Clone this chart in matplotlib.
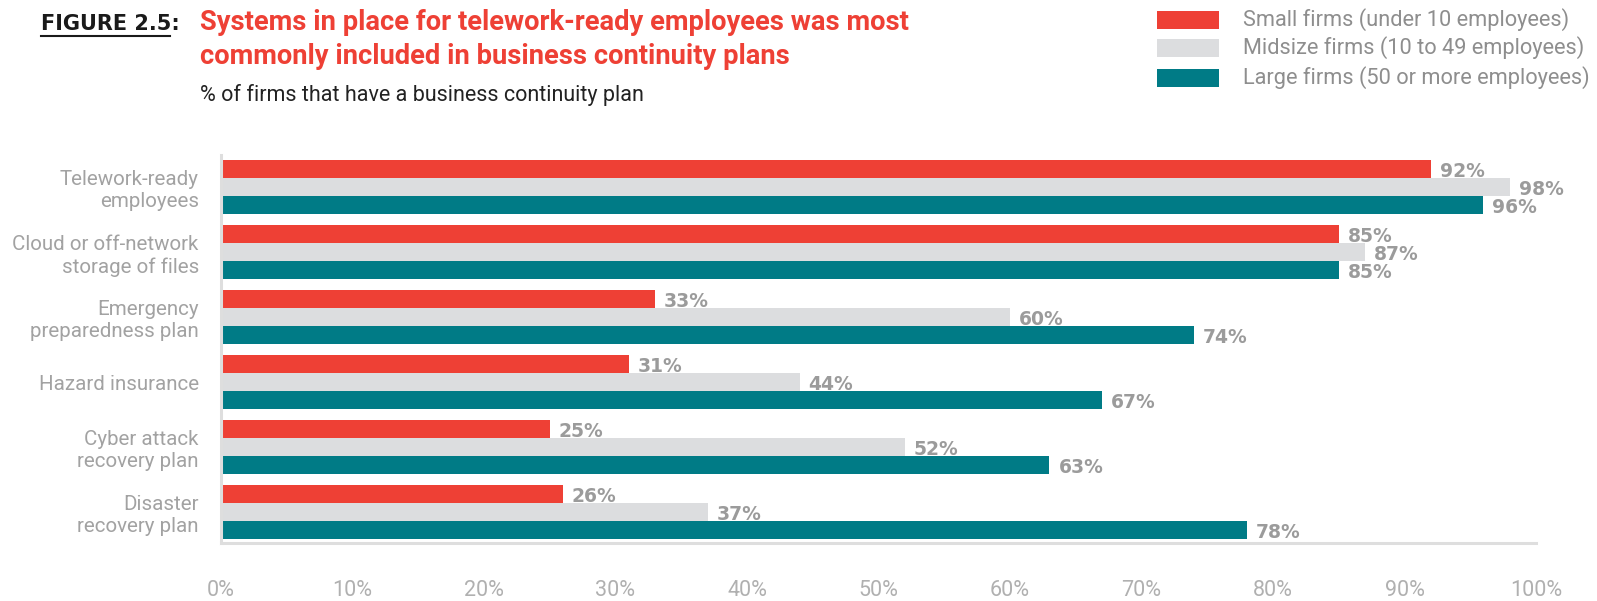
import matplotlib
matplotlib.use("Agg")
import matplotlib.pyplot as plt
from matplotlib.patches import Rectangle

categories = [
    "Telework-ready\nemployees",
    "Cloud or off-network\nstorage of files",
    "Emergency\npreparedness plan",
    "Hazard insurance",
    "Cyber attack\nrecovery plan",
    "Disaster\nrecovery plan",
]
small_firms = [92, 85, 33, 31, 25, 26]
midsize_firms = [98, 87, 60, 44, 52, 37]
large_firms = [96, 85, 74, 67, 63, 78]
series_names = [
    "Small firms (under 10 employees)",
    "Midsize firms (10 to 49 employees)",
    "Large firms (50 or more employees)",
]
x_ticks = list(range(0, 101, 10))

RED = "#EE4035"
GREY = "#DCDDDF"
TEAL = "#007B86"
LABEL_GREY = "#9B9B9B"
AXIS_GREY = "#DEDEDE"

W, H = 1597, 601
fig = plt.figure(figsize=(W / 100, H / 100), dpi=100)

def fx(px):
    return px / W

def fy(py):
    return 1 - py / H

ax = fig.add_axes([fx(221), fy(543), fx(1536) - fx(221), fy(155) - fy(543)])

h = 18 / 65
ys = list(range(len(categories)))
colors = [RED, GREY, TEAL]
for k, vals in enumerate([small_firms, midsize_firms, large_firms]):
    offs = (k - 1) * h
    yy = [y + offs for y in ys]
    ax.barh(yy, vals, height=h, color=colors[k], linewidth=0, zorder=2)
    for y, v in zip(yy, vals):
        ax.annotate(f"{v}%", xy=(v, y), xytext=(6.5, -1.5), textcoords="offset points",
                    ha="left", va="center", fontsize=13.5, fontweight="bold",
                    color=LABEL_GREY, family="DejaVu Sans")

ax.set_xlim(0, 100)
ax.set_ylim(5.47, -0.5)
ax.set_xticks(x_ticks)
ax.set_xticklabels([f"{t}%" for t in x_ticks], family="Roboto", fontweight="normal",
                   fontsize=15.5, color="#B0B0B0")
ax.tick_params(axis="x", length=0, pad=27)
ax.set_yticks(ys)
ax.set_yticklabels(categories, family="Roboto", fontweight="normal", fontsize=14.8,
                   color="#A2A2A2", linespacing=1.2)
ax.tick_params(axis="y", length=0, pad=16)
for s in ["top", "right"]:
    ax.spines[s].set_visible(False)
for s in ["left", "bottom"]:
    ax.spines[s].set_color(AXIS_GREY)
    ax.spines[s].set_linewidth(2.2)
ax.set_facecolor("none")

# Heading block
fig.text(fx(41), fy(30), "FIGURE 2.5:", family="DejaVu Sans", fontweight="bold",
         fontsize=15, color="#1a1a1a", ha="left", va="baseline")
fig.add_artist(plt.Line2D([fx(41), fx(170)], [fy(36), fy(36)], color="#1a1a1a", lw=1.5))
fig.text(fx(200), fy(30), "Systems in place for telework-ready employees was most",
         family="Roboto", fontweight="bold", fontsize=19.7, color=RED, ha="left", va="baseline")
fig.text(fx(200), fy(64), "commonly included in business continuity plans",
         family="Roboto", fontweight="bold", fontsize=19.7, color=RED, ha="left", va="baseline")
fig.text(fx(200), fy(101), "% of firms that have a business continuity plan",
         family="Roboto", fontsize=15.5, color="#222222", ha="left", va="baseline")

# Legend
leg_y = [20, 48, 78]
for c, name, y in zip(colors, series_names, leg_y):
    fig.add_artist(Rectangle((fx(1157), fy(y + 9)), fx(1219) - fx(1157), fy(y - 9) - fy(y + 9),
                             transform=fig.transFigure, color=c, linewidth=0))
    fig.text(fx(1243), fy(y), name, family="Roboto", fontweight="normal", fontsize=15.7,
             color="#8E8E8E", ha="left", va="center")

fig.savefig("out.png", dpi=100)
